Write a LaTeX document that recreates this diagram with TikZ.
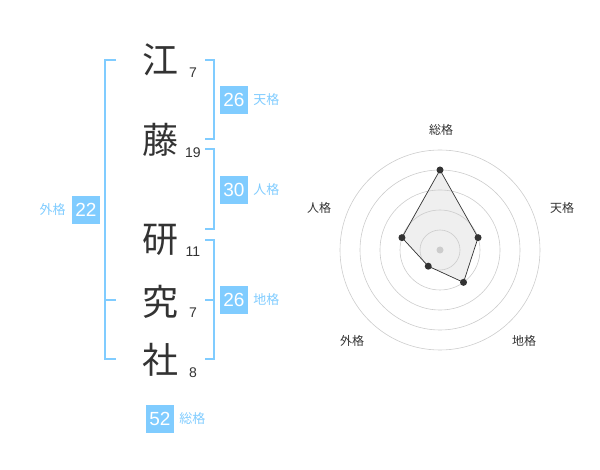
\documentclass[tikz,border=0pt]{standalone}
\usepackage{fontspec}
\setmainfont{Liberation Sans}
\newfontfamily\jpfont{Noto Sans CJK JP}
\usetikzlibrary{positioning,calc}
\definecolor{kakublue}{HTML}{80CCFF}
\definecolor{inkgray}{HTML}{333333}
\definecolor{ringgray}{HTML}{CCCCCC}
\definecolor{areagray}{HTML}{EFEFEF}
\begin{document}
\begin{tikzpicture}[x=1pt, y=-1pt,
  kanji/.style = {inner sep=0pt, text=inkgray,
    font=\jpfont\fontsize{36}{36}\selectfont},
  kakusu/.style = {inner sep=0pt, text=inkgray,
    font=\fontsize{14}{14}\selectfont},
  kakubox/.style = {fill=kakublue, text=white, inner sep=0pt,
    minimum size=28pt, font=\fontsize{19}{19}\selectfont},
  kakulabel/.style = {inner sep=0pt, text=kakublue,
    font=\jpfont\fontsize{13}{13}\selectfont},
  radarlabel/.style = {inner sep=0pt, text=inkgray,
    font=\jpfont\fontsize{12}{12}\selectfont},
  bracket/.style = {draw=kakublue, line width=2pt},
  ring/.style = {draw=ringgray, line width=0.6pt},
  dot/.style = {circle, fill=inkgray, inner sep=0pt, minimum size=7pt}]
  \useasboundingbox (0,0) rectangle (600,470);
  % name
  \node[kanji] (k1) at (160,60) {江};
  \node[kanji] (k2) at (160,140) {藤};
  \node[kanji] (k3) at (160,240) {研};
  \node[kanji] (k4) at (160,302) {究};
  \node[kanji] (k5) at (160,360) {社};
  \node[kakusu] (n1) at (193,73) {7};
  \node[kakusu] (n2) at (193,153) {19};
  \node[kakusu] (n3) at (193,252) {11};
  \node[kakusu] (n4) at (193,313) {7};
  \node[kakusu] (n5) at (193,373) {8};
  % brackets
  \draw[bracket] (205,60) -- (214,60) -- (214,139) -- (205,139);
  \draw[bracket] (205,149) -- (214,149) -- (214,229) -- (205,229);
  \draw[bracket] (205,240) -- (214,240) -- (214,359) -- (205,359);
  \draw[bracket] (205,300) -- (214,300);
  \draw[bracket] (116,60) -- (105,60) -- (105,359) -- (116,359);
  \draw[bracket] (105,300) -- (116,300);
  % kaku
  \node[kakubox] (ten) at (234,100) {26};
  \node[kakulabel, right=5pt of ten] (tenl) {天格};
  \node[kakubox] (jin) at (234,190) {30};
  \node[kakulabel, right=5pt of jin] (jinl) {人格};
  \node[kakubox] (chi) at (234,300) {26};
  \node[kakulabel, right=5pt of chi] (chil) {地格};
  \node[kakubox] (gai) at (86,210) {22};
  \node[kakulabel, left=6pt of gai] (gail) {外格};
  \node[kakubox] (sou) at (160,419) {52};
  \node[kakulabel, right=5pt of sou] (soul) {総格};
  % radar
  \coordinate (c) at (440,250);
  \coordinate (rsou) at ($(c)+(-90:80)$);
  \coordinate (rten) at ($(c)+(-18:40)$);
  \coordinate (rchi) at ($(c)+(54:40)$);
  \coordinate (rgai) at ($(c)+(126:20)$);
  \coordinate (rjin) at ($(c)+(198:40)$);
  \fill[areagray] (rsou) -- (rten) -- (rchi) -- (rgai) -- (rjin) -- cycle;
  \foreach \r in {20,40,60,80,100}
    \draw[ring] (c) circle (\r);
  \draw[inkgray, line width=0.7pt] (rsou) -- (rten) -- (rchi) -- (rgai) -- (rjin) -- cycle;
  \fill[ringgray] (c) circle (3.5);
  \foreach \p in {rsou,rten,rchi,rgai,rjin}
    \node[dot] at (\p) {};
  \node[radarlabel] (lsou) at (441,130) {総格};
  \node[radarlabel] (lten) at (562,208) {天格};
  \node[radarlabel] (lchi) at (524,341) {地格};
  \node[radarlabel] (lgai) at (352,341) {外格};
  \node[radarlabel] (ljin) at (319,208) {人格};
\end{tikzpicture}
\end{document}
